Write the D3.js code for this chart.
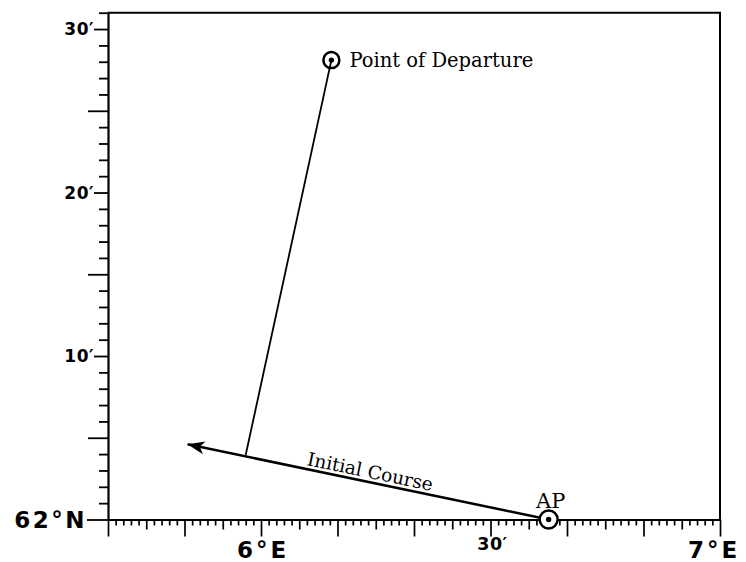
<!DOCTYPE html>
<html>
<head>
<meta charset="utf-8">
<script src="https://cdn.jsdelivr.net/npm/d3@7"></script>
<style>
  html, body { margin: 0; padding: 0; background: #fff; }
  svg { display: block; }
</style>
</head>
<body>
<svg id="chart" width="746" height="562"></svg>
<script>
// ---- data (degrees) ----
const lonDomain = [5 + 40 / 60, 7];           // 5°40'E .. 7°00'E
const latDomain = [62, 62 + 31 / 60];         // 62°00'N .. 62°31'N
const lonTickLabels = [
  { lon: 6, text: "6°E", major: true },
  { lon: 6.5, text: "30′", major: false },
  { lon: 7, text: "7°E", major: true }
];
const latTickLabels = [
  { lat: 62, text: "62°N", major: true },
  { lat: 62 + 10 / 60, text: "10′", major: false },
  { lat: 62 + 20 / 60, text: "20′", major: false },
  { lat: 62 + 30 / 60, text: "30′", major: false }
];
const pointNames = ["Point of Departure", "AP"];
const pointLon = [6 + 9.2 / 60, 6 + 37.6 / 60];
const pointLat = [62 + 28.1 / 60, 62];
const courseEnd = { lon: 5 + 50.4 / 60, lat: 62 + 4.6 / 60 };   // arrow tip of the initial course
const perpFoot = { lon: 5 + 58.0 / 60, lat: 62 + 3.95 / 60 };   // foot of the perpendicular from departure
const courseLabel = "Initial Course";

(function () {
// ---- layout ----
const svg = d3.select("#chart");
const pLeft = 108, pRight = 720, pTop = 12.7, pBottom = 519.5;
const x = d3.scaleLinear().domain(lonDomain).range([pLeft, pRight]);
const y = d3.scaleLinear().domain(latDomain).range([pBottom, pTop]);

const minutesX = d3.range(0, 81).map(i => lonDomain[0] + i / 60);
const minutesY = d3.range(0, 32).map(i => latDomain[0] + i / 60);

// frame (top & right)
svg.append("path")
  .attr("d", `M${pLeft},${pTop} H${pRight} V${pBottom}`)
  .attr("fill", "none").attr("stroke", "#000").attr("stroke-width", 2);

// bottom axis
const xAxis = d3.axisBottom(x).tickValues(minutesX).tickSize(6).tickFormat("").tickSizeOuter(0);
const gx = svg.append("g").attr("transform", `translate(0,${pBottom})`).call(xAxis);
gx.select(".domain").attr("stroke-width", 2.2);
gx.selectAll(".tick line")
  .attr("stroke-width", 1.7)
  .attr("y2", (d, i) => i % 10 === 0 ? 17 : (i % 5 === 0 ? 10 : 6));

// left axis
const yAxis = d3.axisLeft(y).tickValues(minutesY).tickSize(9).tickFormat("").tickSizeOuter(0);
const gy = svg.append("g").attr("transform", `translate(${pLeft},0)`).call(yAxis);
gy.select(".domain").attr("stroke-width", 2.2);
gy.selectAll(".tick line")
  .attr("stroke-width", 1.8)
  .attr("x2", (d, i) => i === 0 ? -21 : (i % 10 === 0 ? -14 : (i % 5 === 0 ? -20 : -9)));

// x labels
svg.selectAll("text.xlab").data(lonTickLabels).join("text")
  .attr("class", "xlab")
  .attr("x", d => d.lon === 7 ? x(d.lon) - 6 : x(d.lon) + 2)
  .attr("y", d => d.major ? 558 : 550)
  .attr("text-anchor", "middle")
  .attr("font-family", "DejaVu Sans")
  .attr("font-weight", "bold")
  .attr("font-size", d => d.major ? 23 : 17.5)
  .attr("letter-spacing", d => d.major ? 3 : 0.5)
  .text(d => d.text);

// y labels
svg.selectAll("text.ylab").data(latTickLabels).join("text")
  .attr("class", "ylab")
  .attr("x", d => d.major ? 87 : 94)
  .attr("y", d => y(d.lat) + (d.major ? 8 : 6))
  .attr("text-anchor", "end")
  .attr("font-family", "DejaVu Sans")
  .attr("font-weight", "bold")
  .attr("font-size", d => d.major ? 23 : 17)
  .attr("letter-spacing", d => d.major ? 2.5 : 0.5)
  .text(d => d.text);

// arrow marker
const defs = svg.append("defs");
defs.append("marker")
  .attr("id", "arrow").attr("markerUnits", "userSpaceOnUse")
  .attr("viewBox", "-18 -8 20 16").attr("refX", 0).attr("refY", 0)
  .attr("markerWidth", 20).attr("markerHeight", 16).attr("orient", "auto")
  .append("path").attr("d", "M0,0 L-17,-6.5 L-12.5,0 L-17,6.5 Z").attr("fill", "#000");

const dep = { lon: pointLon[0], lat: pointLat[0] };
const ap = { lon: pointLon[1], lat: pointLat[1] };

// perpendicular line from departure to course
svg.append("line")
  .attr("x1", x(dep.lon)).attr("y1", y(dep.lat))
  .attr("x2", x(perpFoot.lon)).attr("y2", y(perpFoot.lat))
  .attr("stroke", "#000").attr("stroke-width", 1.8);

// initial course
svg.append("line")
  .attr("x1", x(ap.lon)).attr("y1", y(ap.lat))
  .attr("x2", x(courseEnd.lon)).attr("y2", y(courseEnd.lat))
  .attr("stroke", "#000").attr("stroke-width", 2.5)
  .attr("marker-end", "url(#arrow)");

// course label
const cx1 = x(courseEnd.lon), cy1 = y(courseEnd.lat), cx2 = x(ap.lon), cy2 = y(ap.lat);
const ang = Math.atan2(cy2 - cy1, cx2 - cx1) * 180 / Math.PI;
const t = 0.5;
const lx = cx1 + (cx2 - cx1) * t, ly = cy1 + (cy2 - cy1) * t;
svg.append("text")
  .attr("transform", `translate(${lx},${ly}) rotate(${ang})`)
  .attr("y", -4)
  .attr("text-anchor", "middle")
  .attr("font-family", "DejaVu Serif")
  .attr("font-size", 18.5)
  .text(courseLabel);

// position symbols
const pts = pointNames.map((n, i) => ({ name: n, lon: pointLon[i], lat: pointLat[i] }));
svg.selectAll("circle.ring").data(pts).join("circle")
  .attr("class", "ring")
  .attr("cx", d => x(d.lon)).attr("cy", d => y(d.lat))
  .attr("r", d => d.name === "AP" ? 9 : 8)
  .attr("fill", d => d.name === "AP" ? "#fff" : "none")
  .attr("stroke", "#000").attr("stroke-width", 2.5);
svg.selectAll("circle.dot").data(pts).join("circle")
  .attr("class", "dot")
  .attr("cx", d => x(d.lon)).attr("cy", d => y(d.lat))
  .attr("r", 2.7).attr("fill", "#000");

// point labels
svg.append("text")
  .attr("x", x(dep.lon) + 18).attr("y", y(dep.lat) + 7)
  .attr("font-family", "DejaVu Serif").attr("font-size", 19.5)
  .text(pointNames[0]);
svg.append("text")
  .attr("x", x(ap.lon) + 2).attr("y", y(ap.lat) - 12)
  .attr("text-anchor", "middle")
  .attr("font-family", "DejaVu Serif").attr("font-size", 21)
  .text(pointNames[1]);
})();
</script>
</body>
</html>
